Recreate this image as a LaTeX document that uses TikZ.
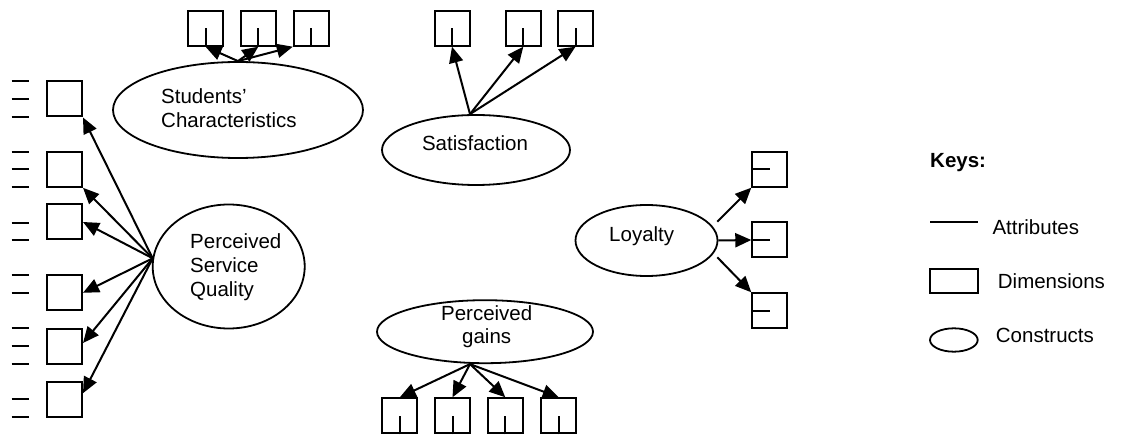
\documentclass[tikz,border=0pt]{standalone}
\usepackage{fontspec}
\setmainfont{Liberation Sans}
\usetikzlibrary{shapes.geometric,arrows.meta}
\begin{document}
\begin{tikzpicture}[x=1pt,y=-1pt,
  every node/.style={font=\fontsize{20.5}{24}\selectfont},
  dimbox/.style={draw, line width=2pt, rectangle, minimum width=35pt, minimum height=35pt, inner sep=0pt},
  construct/.style={draw, line width=1.8pt, ellipse, inner sep=0pt},
  attr/.style={line width=2pt},
  link/.style={line width=2pt, -{Triangle[length=16pt,width=14pt]}},
  lbl/.style={inner sep=0pt, anchor=base west},
  clbl/.style={inner sep=0pt, anchor=base}]
\useasboundingbox (0,0) rectangle (1126,435);

% ---------- Students' Characteristics ----------
\node[construct, minimum width=250pt, minimum height=96pt] (sc) at (238,110) {};
\node[lbl] (sct1) at (161,103.3) {Students'};
\node[lbl] (sct2) at (161,127.3) {Characteristics};
\node[dimbox] (sa) at (205.5,28.2) {};
\node[dimbox] (sb) at (258.3,28.2) {};
\node[dimbox] (sd) at (311.3,28.2) {};
\foreach \b in {sa,sb,sd} \draw[attr] (\b.south) -- (\b.center);
\draw[link] (sc.north) -- (sa.south);
\draw[link] (sc.north) -- (sb.south);
\draw[link] (sc.north) -- (sd.south west);

% ---------- Perceived Service Quality ----------
\node[construct, minimum width=152pt, minimum height=124pt] (psq) at (228.7,266.5) {};
\node[lbl] (psqt1) at (190,249) {Perceived};
\node[lbl] (psqt2) at (190,273) {Service};
\node[lbl] (psqt3) at (190,297) {Quality};
\coordinate (psqs) at (152.7,258.3);
\node[dimbox] (q1) at (64.5,99) {};
\node[dimbox] (q2) at (64.5,169.3) {};
\node[dimbox] (q3) at (64.5,222) {};
\node[dimbox] (q4) at (64.5,292.8) {};
\node[dimbox] (q5) at (64.5,346) {};
\node[dimbox] (q6) at (64.5,399.2) {};
\foreach \y in {81,99,116.7,151.7,169,186.7,222.7,240,275,292.7,328,346,364,399.3,416.7}
  \draw[attr] (11.7,\y) -- (29,\y);
\draw[link] (psqs) -- (q1.south east);
\draw[link] (psqs) -- (q2.south east);
\draw[link] (psqs) -- (q3.east);
\draw[link] (psqs) -- (q4.east);
\draw[link] (psqs) -- ([yshift=3pt]q5.east);
\draw[link] (psqs) -- ([yshift=6pt]q6.east);

% ---------- Satisfaction ----------
\node[construct, minimum width=188pt, minimum height=70pt] (sat) at (476,150) {};
\node[clbl] (satt) at (475,150.5) {Satisfaction};
\node[dimbox] (ta) at (452,28.2) {};
\node[dimbox] (tb) at (523.3,28.2) {};
\node[dimbox] (tc) at (575.5,28.2) {};
\foreach \b in {ta,tb,tc} \draw[attr] (\b.south) -- (\b.center);
\coordinate (sats) at ([xshift=-6pt]sat.north);
\draw[link] (sats) -- (ta.south);
\draw[link] (sats) -- (tb.south);
\draw[link] (sats) -- (tc.south);

% ---------- Perceived gains ----------
\node[construct, minimum width=216pt, minimum height=63pt] (pg) at (485,331.7) {};
\node[clbl] (pgt1) at (486.7,320) {Perceived};
\node[clbl] (pgt2) at (486.7,343) {gains};
\node[dimbox] (ga) at (399.8,415.8) {};
\node[dimbox] (gb) at (452.5,415.8) {};
\node[dimbox] (gc) at (505.3,415.8) {};
\node[dimbox] (gd) at (558.7,415.8) {};
\foreach \b in {ga,gb,gc,gd} \draw[attr] (\b.south) -- (\b.center);
\coordinate (pgs) at ([xshift=-15pt]pg.south);
\draw[link] (pgs) -- (ga.north);
\draw[link] (pgs) -- (gb.north);
\draw[link] (pgs) -- (gc.north);
\draw[link] (pgs) -- (gd.north);

% ---------- Loyalty ----------
\node[construct, minimum width=142pt, minimum height=71pt] (loy) at (646.5,240.5) {};
\node[clbl] (loyt) at (641.7,241.7) {Loyalty};
\node[dimbox] (r1) at (769.8,169.2) {};
\node[dimbox] (r2) at (769.8,240) {};
\node[dimbox] (r3) at (769.8,310.8) {};
\foreach \b in {r1,r2,r3} \draw[attr] (\b.west) -- (\b.center);
\coordinate (loy1) at (717.3,221.7);
\coordinate (loy3) at (717.3,257.3);
\draw[link] (loy1) -- (r1.south west);
\draw[link] (loy.east) -- (r2.west);
\draw[link] (loy3) -- (r3.north west);

% ---------- Keys ----------
\node[lbl, font=\fontsize{20.5}{24}\selectfont\bfseries] (keys) at (930,167.5) {Keys:};
\coordinate (ka) at (930,221.7);
\coordinate (kb) at (977.7,221.7);
\draw[attr] (ka) -- (kb);
\node[lbl] (katt) at (992.3,235) {Attributes};
\node[draw, line width=2pt, rectangle, minimum width=47.7pt, minimum height=23.7pt, inner sep=0pt] (kdim) at (953.85,280.85) {};
\node[lbl] (kdimt) at (997.7,289) {Dimensions};
\node[draw, line width=1.8pt, ellipse, minimum width=47.7pt, minimum height=23.4pt, inner sep=0pt] (kcon) at (953.85,340) {};
\node[lbl] (kcont) at (995.7,342.7) {Constructs};
\end{tikzpicture}
\end{document}
